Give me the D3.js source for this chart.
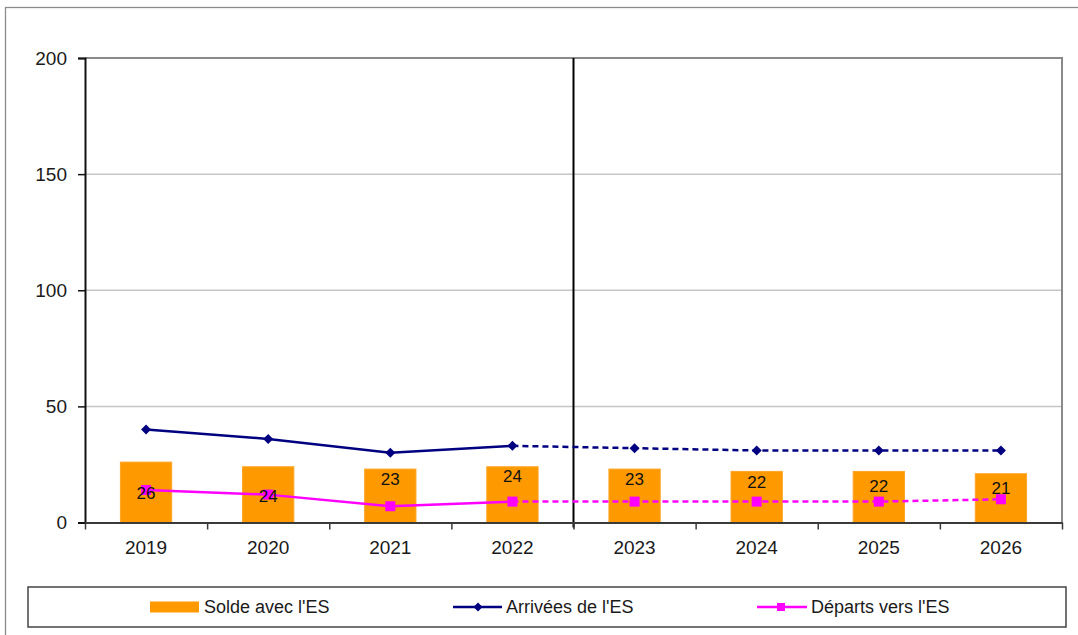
<!DOCTYPE html>
<html>
<head>
<meta charset="utf-8">
<script src="https://cdn.jsdelivr.net/npm/d3@7"></script>
<style>
  body { margin: 0; background: #fff; }
  svg { display: block; font-family: Arial, "Liberation Sans", sans-serif; }
</style>
</head>
<body>
<script>
// data
const years = ['2019', '2020', '2021', '2022', '2023', '2024', '2025', '2026'];
const solde = [26, 24, 23, 24, 23, 22, 22, 21];
const arrivees = [40, 36, 30, 33, 32, 31, 31, 31];
const departs = [14, 12, 7, 9, 9, 9, 9, 10];
const yTicks = [0, 50, 100, 150, 200];
const seriesNames = ["Solde avec l'ES", "Arrivées de l'ES", "Départs vers l'ES"];
const lastObserved = 3; // index of 2022, dashed afterwards

// where each bar label sits (in value units, as placed in the source)
const labelAt = [12.3, 11, 18.7, 19.6, 18.7, 17.4, 15.3, 14.8];

const W = 1078, H = 635;
const plot = { left: 85, right: 1062, top: 58, bottom: 522.5 };

const svg = d3.select('body').append('svg')
  .attr('width', W)
  .attr('height', H);

// outer frame
svg.append('rect')
  .attr('x', 5.5).attr('y', 7.5)
  .attr('width', W + 10).attr('height', H + 10)
  .attr('fill', '#fff')
  .attr('stroke', '#8c8c8c')
  .attr('stroke-width', 1.3);

const x = d3.scaleBand()
  .domain(years)
  .range([plot.left, plot.right]);

const xEdge = d3.scaleLinear()
  .domain([0, years.length])
  .range([plot.left, plot.right]);

const y = d3.scaleLinear()
  .domain([0, 200])
  .range([plot.bottom, plot.top]);

// gridlines
svg.append('g')
  .selectAll('line')
  .data(yTicks.filter(t => t > 0 && t < 200))
  .enter()
  .append('line')
  .attr('x1', plot.left).attr('x2', plot.right)
  .attr('y1', d => y(d)).attr('y2', d => y(d))
  .attr('stroke', '#c6c6c6')
  .attr('stroke-width', 1.5);

// plot frame top + right
svg.append('path')
  .attr('d', `M${plot.left},${y(200)}H${plot.right}V${plot.bottom}`)
  .attr('fill', 'none')
  .attr('stroke', '#8a8a8a')
  .attr('stroke-width', 2);

// bars
const barW = x.bandwidth() * 0.42;
svg.append('g')
  .selectAll('rect')
  .data(solde)
  .enter()
  .append('rect')
  .attr('x', (d, i) => x(years[i]) + (x.bandwidth() - barW) / 2)
  .attr('y', d => y(d))
  .attr('width', barW)
  .attr('height', d => y(0) - y(d))
  .attr('fill', '#ff9900')
  .attr('stroke', '#ffa526')
  .attr('stroke-width', 1);

// divider between observed and projected
svg.append('line')
  .attr('x1', xEdge(lastObserved + 1)).attr('x2', xEdge(lastObserved + 1))
  .attr('y1', plot.top).attr('y2', plot.bottom + 5)
  .attr('stroke', '#000')
  .attr('stroke-width', 2);

// axes
const yAxis = d3.axisLeft(y)
  .tickValues(yTicks)
  .tickSize(7)
  .tickPadding(11);
const gy = svg.append('g')
  .attr('transform', `translate(${plot.left},0)`)
  .call(yAxis);
gy.select('.domain').attr('stroke', '#111').attr('stroke-width', 2);
gy.selectAll('.tick line').attr('stroke', '#111').attr('stroke-width', 1.5);
gy.selectAll('text').attr('font-size', 19).attr('fill', '#1a1a1a')
  .attr('font-family', 'Arial, "Liberation Sans", sans-serif');

const xTickAxis = d3.axisBottom(xEdge)
  .tickValues(d3.range(years.length + 1))
  .tickFormat('')
  .tickSize(7)
  .tickSizeOuter(0);
const gxt = svg.append('g')
  .attr('transform', `translate(0,${plot.bottom})`)
  .call(xTickAxis);
gxt.select('.domain').attr('stroke', '#3a3a3a').attr('stroke-width', 2);
gxt.selectAll('.tick line').attr('stroke', '#3a3a3a').attr('stroke-width', 1.5);

const xAxis = d3.axisBottom(x).tickSize(0).tickPadding(18);
const gx = svg.append('g')
  .attr('transform', `translate(0,${plot.bottom})`)
  .call(xAxis);
gx.select('.domain').remove();
gx.selectAll('text').attr('font-size', 19).attr('fill', '#1a1a1a')
  .attr('font-family', 'Arial, "Liberation Sans", sans-serif');

// lines
const cx = i => x(years[i]) + x.bandwidth() / 2;
const line = d3.line().x(d => cx(d.i)).y(d => y(d.v));

function drawSeries(values, color, width) {
  const pts = values.map((v, i) => ({ i, v }));
  svg.append('path')
    .datum(pts.slice(0, lastObserved + 1))
    .attr('d', line)
    .attr('fill', 'none')
    .attr('stroke', color)
    .attr('stroke-width', width);
  svg.append('path')
    .datum(pts.slice(lastObserved))
    .attr('d', line)
    .attr('fill', 'none')
    .attr('stroke', color)
    .attr('stroke-width', width)
    .attr('stroke-dasharray', '6,4');
  return pts;
}

const arrPts = drawSeries(arrivees, '#000080', 2.5);
svg.append('g')
  .selectAll('path')
  .data(arrPts)
  .enter()
  .append('path')
  .attr('d', 'M0,-5L5,0L0,5L-5,0Z')
  .attr('transform', d => `translate(${cx(d.i)},${y(d.v)})`)
  .attr('fill', '#000080');

const depPts = drawSeries(departs, '#ff00ff', 2.5);
svg.append('g')
  .selectAll('rect')
  .data(depPts)
  .enter()
  .append('rect')
  .attr('x', d => cx(d.i) - 5)
  .attr('y', d => y(d.v) - 5)
  .attr('width', 10)
  .attr('height', 10)
  .attr('fill', '#ff00ff');

// bar labels
svg.append('g')
  .selectAll('text')
  .data(solde)
  .enter()
  .append('text')
  .attr('x', (d, i) => cx(i))
  .attr('y', (d, i) => y(labelAt[i]))
  .attr('text-anchor', 'middle')
  .attr('dominant-baseline', 'central')
  .attr('font-size', 17)
  .attr('fill', '#111')
  .text(d => d);

// legend
const lg = svg.append('g');
lg.append('rect')
  .attr('x', 28).attr('y', 587)
  .attr('width', 1038).attr('height', 40)
  .attr('fill', '#fff')
  .attr('stroke', '#444')
  .attr('stroke-width', 1.5);

const legY = 607;
lg.append('rect')
  .attr('x', 150).attr('y', legY - 5.5)
  .attr('width', 49).attr('height', 11)
  .attr('fill', '#ff9900');

lg.append('line')
  .attr('x1', 453).attr('x2', 502)
  .attr('y1', legY).attr('y2', legY)
  .attr('stroke', '#000080').attr('stroke-width', 2.5);
lg.append('path')
  .attr('d', 'M0,-4.5L4.5,0L0,4.5L-4.5,0Z')
  .attr('transform', `translate(478,${legY})`)
  .attr('fill', '#000080');

lg.append('line')
  .attr('x1', 757).attr('x2', 807)
  .attr('y1', legY).attr('y2', legY)
  .attr('stroke', '#ff00ff').attr('stroke-width', 2.5);
lg.append('rect')
  .attr('x', 777).attr('y', legY - 4)
  .attr('width', 8).attr('height', 8)
  .attr('fill', '#ff00ff');

lg.selectAll('text.leg')
  .data(seriesNames)
  .enter()
  .append('text')
  .attr('class', 'leg')
  .attr('x', (d, i) => [204, 506, 811][i])
  .attr('y', legY)
  .attr('dominant-baseline', 'central')
  .attr('font-size', 18)
  .attr('fill', '#1a1a1a')
  .text(d => d);
</script>
</body>
</html>
